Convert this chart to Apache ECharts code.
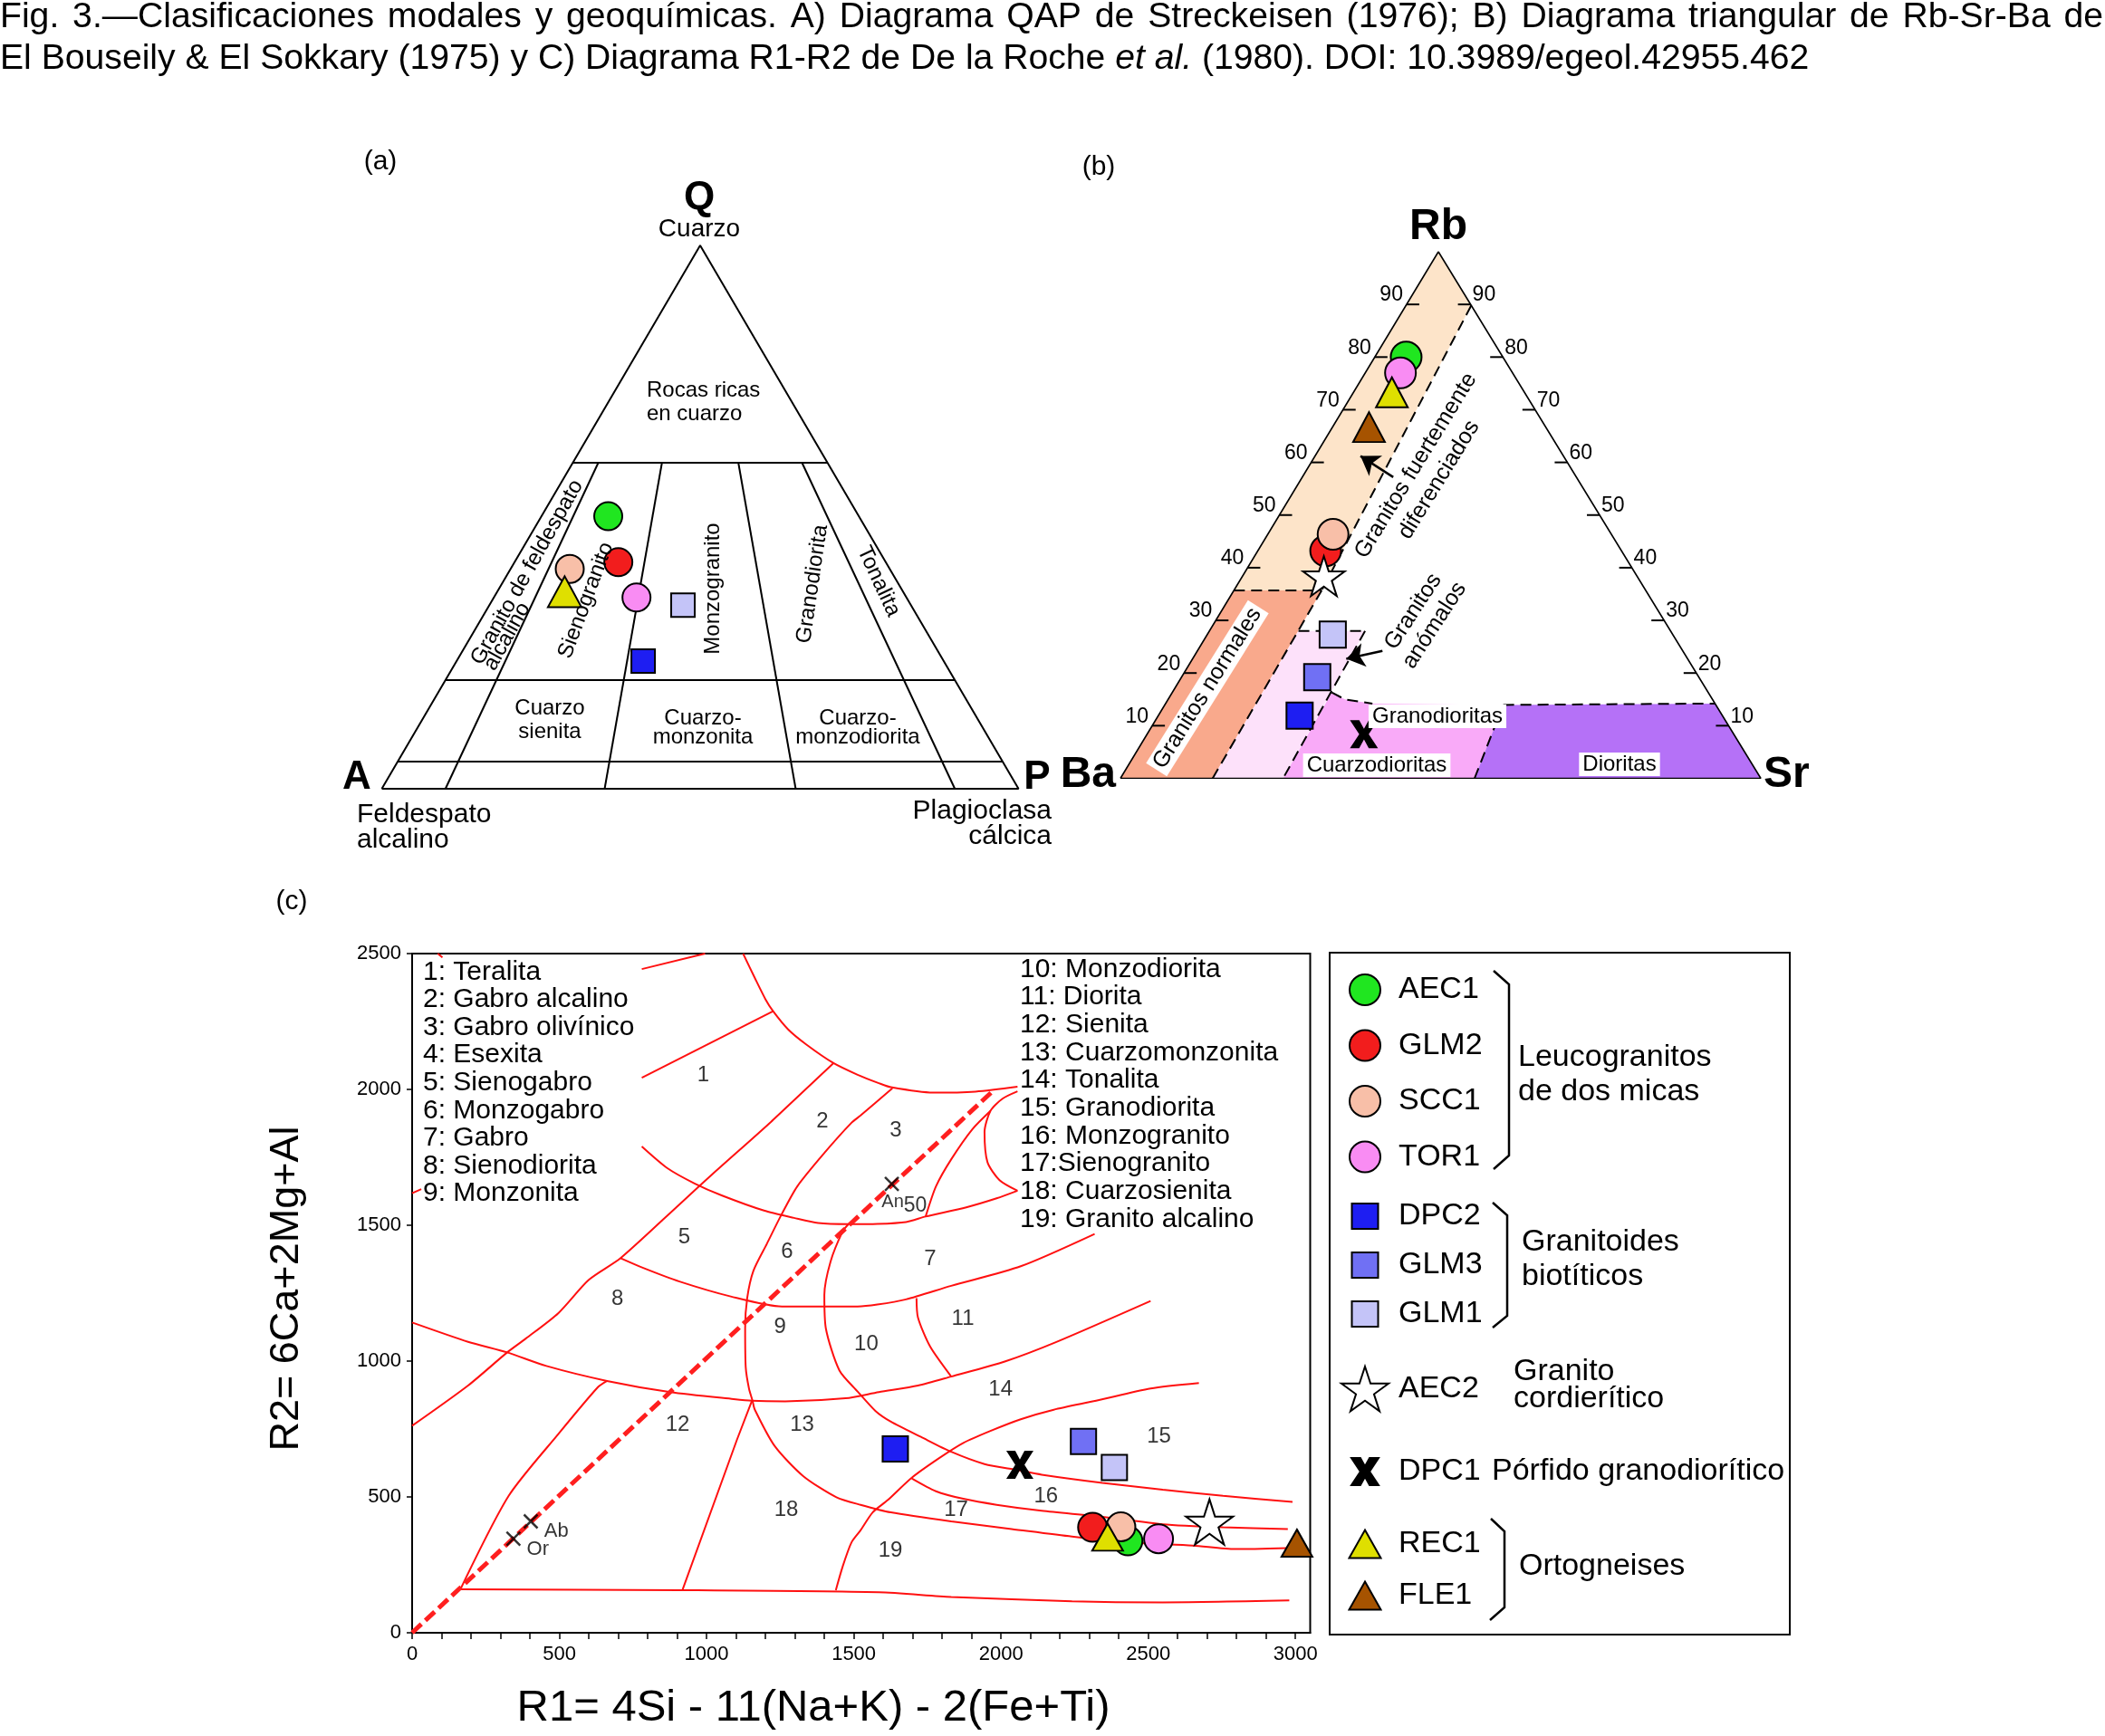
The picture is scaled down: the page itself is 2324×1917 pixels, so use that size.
<!DOCTYPE html>
<html><head><meta charset="utf-8">
<script src="https://cdn.jsdelivr.net/npm/echarts@6/dist/echarts.min.js"></script>
<style>html,body{margin:0;padding:0;background:#fff}#c{width:2324px;height:1917px}</style>
</head><body><div id="c"></div>
<script>
const FONT = '"Liberation Sans", Arial, Helvetica, sans-serif';

// ---------------- Title ----------------
const titleLine1 = 'Fig. 3.—Clasificaciones modales y geoquímicas. A) Diagrama QAP de Streckeisen (1976); B) Diagrama triangular de Rb-Sr-Ba de';
const titleLine2a = 'El Bouseily & El Sokkary (1975) y C) Diagrama R1-R2 de De la Roche ';
const titleLine2b = 'et al.';
const titleLine2c = ' (1980). DOI: 10.3989/egeol.42955.462';

// ---------------- Samples ----------------
const sampleOrder = ['AEC1','GLM2','SCC1','TOR1','DPC2','GLM3','GLM1','AEC2','DPC1','REC1','FLE1'];
const sampleKind  = ['circle','circle','circle','circle','square','square','square','star','cross','triangle','triangle'];
const sampleColor = ['#20e620','#f21d1d','#f8bfa8','#f98cf3','#1e1ef2','#7070f4','#c4c4f8','#ffffff','#000000','#dfdf00','#a65300'];

// ---------------- Panel A: QAP (percent) ----------------
const qapNames = ['AEC1','GLM2','SCC1','TOR1','REC1','GLM1','DPC2'];
const qapQ = [50.2, 41.7, 40.5, 35.2, 36.3, 33.8, 23.5];
const qapA = [39.4, 42.0, 50.3, 42.4, 53.2, 35.8, 47.2];
const qapP = [10.5, 16.3,  9.3, 22.4, 10.6, 30.4, 29.3];
const qapQLines = [60, 20, 5];          // Q iso-lines
const qapRatioLines = [10, 35, 65, 90]; // 100*P/(A+P), from Q=60 to Q=0

// ---------------- Panel B: Rb-Ba-Sr (percent) ----------------
const rbNames = ['AEC1','TOR1','REC1','FLE1','SCC1','GLM2','AEC2','GLM1','GLM3','DPC2','DPC1'];
const rbRb = [80.0, 77.0, 73.3, 66.7, 46.4, 43.2, 38.4, 27.3, 19.2, 11.9,  8.4];
const rbBa = [15.1, 17.5, 20.7, 27.6, 43.5, 46.2, 48.9, 53.1, 59.6, 66.1, 57.8];
const rbSr = [ 4.9,  5.5,  6.0,  5.7, 10.2, 10.6, 12.7, 19.6, 21.2, 22.1, 33.9];
const rbTicks = [10, 20, 30, 40, 50, 60, 70, 80, 90];
// fields [Rb, Ba, Sr]
const fieldDiferenciados = [[35.7,64.3,0],[100,0,0],[89.8,0,10.2],[35.7,50.6,13.7]];
const fieldNormales      = [[35.7,64.3,0],[0,100,0],[0,85.6,14.4],[35.7,50.6,13.7]];
const fieldAnomalos      = [[0,85.6,14.4],[28,58.1,13.9],[28,47.7,24.3],[0,74.6,25.4]];
const fieldGranodioritas = [[0,74.6,25.4],[16.3,58.8,24.9],[15,57.4,27.6],[14.2,53.5,32.3],[13.95,33.2,52.85],[0,44.7,55.3]];
const fieldDioritas      = [[13.95,33.2,52.85],[14.2,0,85.8],[0,0,100],[0,44.7,55.3]];
const rbDashed = [
  [[89.8,0,10.2],[35.7,50.6,13.7]],
  [[35.7,64.3,0],[35.7,50.6,13.7]],
  [[0,85.6,14.4],[35.7,50.6,13.7]],
  [[28,58.1,13.9],[28,47.7,24.3]],
  [[28,47.7,24.3],[0,74.6,25.4]],
  [[16.3,58.8,24.9],[15,57.4,27.6],[14.2,53.5,32.3]],
  [[13.95,33.2,52.85],[14.2,0,85.8]],
  [[0,44.7,55.3],[13.95,33.2,52.85]]
];
const rbArrows = [
  [[57.2,28.6,14.2],[61.2,31.7,7.1]],
  [[24.2,46.9,28.9],[22.7,53.3,24.0]]
];

// ---------------- Panel C: R1-R2 ----------------
const r1r2Names = ['DPC2','GLM3','GLM1','DPC1','GLM2','SCC1','AEC1','REC1','TOR1','AEC2','FLE1'];
const r1Values  = [1641, 2280, 2385, 2064, 2311, 2407, 2431, 2362, 2535, 2708, 3005];
const r2Values  = [ 677,  704,  608,  618,  388,  390,  338,  352,  346,  408,  330];
const r1Labels = [0, 500, 1000, 1500, 2000, 2500, 3000];
const r2Labels = [0, 500, 1000, 1500, 2000, 2500];
const refNames = ['Or', 'Ab', 'An50'];
const refR1 = [344, 403, 1629];
const refR2 = [346, 410, 1652];
const fieldNumbers = ['1','2','3','5','6','7','8','9','10','11','12','13','14','15','16','17','18','19'];
const fieldNumR1 = [990,1395,1644, 926,1275,1761, 699,1251,1544,1872, 903,1326,2000,2538,2154,1849,1272,1626];
const fieldNumR2 = [2049,1880,1846,1454,1401,1374,1227,1123,1060,1154, 763, 763, 893, 719, 501, 449, 452, 301];
const rocheLegendLeft = ['1: Teralita','2: Gabro alcalino','3: Gabro olivínico','4: Esexita','5: Sienogabro','6: Monzogabro','7: Gabro','8: Sienodiorita','9: Monzonita'];
const rocheLegendRight = ['10: Monzodiorita','11: Diorita','12: Sienita','13: Cuarzomonzonita','14: Tonalita','15: Granodiorita','16: Monzogranito','17:Sienogranito','18: Cuarzosienita','19: Granito alcalino'];

const lineTeralitaTop = [[780,2443],[995,2500]];
const lineTopLeftTick = [[87,2500],[103,2486]];
const lineLeftTick = [[0,1618],[31,1633]];
const arcTeralita = [[1124,2500],[1164,2410],[1200,2332],[1226,2288],[1277,2221],[1338,2166],[1431,2097],[1513,2054],[1585,2023],[1626,2008],[1769,1988],[1913,1992],[2056,2010]];
const lineTeralitaEsexita = [[780,2043],[1226,2288]];
const lineEsexita = [[0,762],[190,910],[323,1032],[385,1082],[497,1177],[600,1299],[708,1379],[908,1577],[1031,1699],[1215,1877],[1431,2097]];
const curveGabros = [[780,1790],[867,1710],[959,1654],[1051,1610],[1195,1554],[1297,1527],[1379,1508],[1482,1504],[1580,1505],[1677,1512],[1744,1532],[1882,1566],[1985,1599],[2056,1627]];
const loopOlivinico = [[2056,1993],[2005,1966],[1964,1921],[1944,1843],[1954,1732],[1995,1666],[2056,1627]];
const line3to7 = [[1964,1921],[1903,1854],[1831,1743],[1779,1643],[1744,1532]];
const curveSubalcalina = [[1631,2004],[1523,1904],[1492,1877],[1400,1766],[1308,1643],[1251,1532],[1205,1432],[1159,1332],[1138,1232],[1131,1121],[1133,977],[1144,899],[1156,854],[1164,821],[1231,688],[1328,577],[1441,499],[1523,471],[1626,443],[1831,410],[2036,382],[2241,354],[2446,332],[2651,321],[2795,308],[2974,312]];
const curveMonzonita = [[708,1379],[785,1343],[908,1293],[1082,1238],[1256,1201],[1369,1201],[1513,1201],[1580,1208],[1677,1227],[1831,1277],[2067,1349],[2318,1468]];
const line10to11 = [[1713,1232],[1718,1160],[1759,1054],[1831,943]];
const curveTonalita = [[1482,1504],[1462,1477],[1421,1366],[1400,1243],[1405,1121],[1451,966],[1513,888],[1574,816],[1626,777],[1728,721],[1831,666],[1944,621],[2056,599],[2138,582],[2344,552],[2549,527],[2754,504],[2990,482]];
const curveSienita = [[0,1142],[190,1071],[323,1032],[456,982],[662,927],[877,886],[1092,860],[1154,854],[1267,852],[1472,863],[1585,886],[1718,910],[1831,943],[2015,999],[2190,1071],[2508,1221]];
const lineSienitaAlc = [[662,927],[631,904],[497,732],[328,504],[164,160]];
const lineBase = [[164,160],[908,157],[1585,149],[1831,132],[2241,116],[2549,112],[2979,119]];
const line12to18 = [[1154,854],[1103,710],[918,157]];
const curveGranodiorita = [[2672,919],[2508,899],[2323,854],[2179,821],[2067,786],[1964,743],[1872,699],[1790,643],[1697,571],[1615,488],[1564,443],[1523,377],[1492,332],[1462,243],[1439,157]];
const curveSienogranito = [[1697,568],[1779,521],[1872,493],[1985,471],[2138,449],[2344,427],[2549,399],[2754,388],[2974,382]];
const lineOrAn = [[0,0],[1978,2000]];
const rocheCurves = [lineTeralitaTop,lineTopLeftTick,lineLeftTick,arcTeralita,lineTeralitaEsexita,lineEsexita,curveGabros,loopOlivinico,line3to7,curveSubalcalina,curveMonzonita,line10to11,curveTonalita,curveSienita,lineSienitaAlc,lineBase,line12to18,curveGranodiorita,curveSienogranito];

// ---------------- helpers ----------------
const qapXY = (q, a, p) => { const s = q + a + p; return [(p + 0.5 * q) / s, q / s]; };
const RB_APEX = 0.4965;
const rbXY = (rb, ba, sr) => { const s = rb + ba + sr; return [(sr + rb * RB_APEX) / s, rb / s]; };
const rbP = t => rbXY(t[0], t[1], t[2]);

const SYM = {
  circle: 'circle', square: 'rect', triangle: 'triangle',
  star: 'path://M50,2L61.2,36.5L97.6,36.5L68.2,57.9L79.4,92.4L50,71L20.6,92.4L31.8,57.9L2.4,36.5L38.8,36.5Z',
  cross: 'path://M0,0H3.3L5,3.1L6.7,0H10L6.7,5L10,10H6.7L5,6.9L3.3,10H0L3.3,5Z'
};
const panelSizes = [
  {circle: 31, square: 26, triangle: [37, 34]},
  {circle: 34, square: 29, triangle: [35, 33], star: [46, 44], cross: [31, 31]},
  {circle: 32, square: 28, triangle: [34, 30], star: [52, 50], cross: [30, 31]}
];

const series = [];
function lineS(ax, data, style, extra) {
  series.push(Object.assign({type: 'line', xAxisIndex: ax, yAxisIndex: ax, data: data, symbol: 'none',
    silent: true, animation: false, z: 2, lineStyle: style}, extra || {}));
}

// Panel A lines
const black2 = {color: '#000', width: 2};
lineS(0, [qapXY(0,100,0), qapXY(0,0,100), qapXY(100,0,0), qapXY(0,100,0)], black2);
qapQLines.forEach(q => lineS(0, [qapXY(q, 100 - q, 0), qapXY(q, 0, 100 - q)], black2));
qapRatioLines.forEach(r => lineS(0, [qapXY(60, 40 * (100 - r) / 100, 40 * r / 100), qapXY(0, 100 - r, r)], black2));

// Panel B fields
function polyS(poly, fill) {
  series.push({type: 'custom', xAxisIndex: 1, yAxisIndex: 1, silent: true, z: 1, animation: false, data: [[0, 0]],
    renderItem: (params, api) => ({type: 'polygon', shape: {points: poly.map(p => api.coord(rbP(p)))}, style: {fill: fill}})});
}
polyS(fieldDiferenciados, '#fde4c9');
polyS(fieldNormales, '#f9a98c');
polyS(fieldAnomalos, '#fde1fa');
polyS(fieldGranodioritas, '#f9aaf8');
polyS(fieldDioritas, '#b571f7');
rbDashed.forEach(seg => lineS(1, seg.map(rbP), {color: '#000', width: 2, type: [12, 7]}));
lineS(1, [rbXY(0,100,0), rbXY(0,0,100), rbXY(100,0,0), rbXY(0,100,0)], {color: '#000', width: 1.6});
series.push({type: 'custom', xAxisIndex: 1, yAxisIndex: 1, silent: true, z: 3, animation: false,
  data: rbTicks.flatMap(v => [[v, 0], [v, 1]]),
  renderItem: (params, api) => {
    const v = api.value(0), side = api.value(1);
    const e = side === 0 ? api.coord(rbXY(v, 100 - v, 0)) : api.coord(rbXY(v, 0, 100 - v));
    const dir = side === 0 ? 1 : -1;
    const al = side === 0 ? 'right' : 'left';
    return {type: 'group', children: [
      {type: 'line', shape: {x1: e[0], y1: e[1], x2: e[0] + dir * 14, y2: e[1]}, style: {stroke: '#000', lineWidth: 2}},
      {type: 'text', x: side === 0 ? e[0] - 4 : e[0] + 2, y: e[1] - 10,
       style: {text: String(v), fill: '#000', font: '23px ' + FONT, align: al, verticalAlign: 'middle', textAlign: al, textVerticalAlign: 'middle'}}
    ]};
  }});
series.push({type: 'lines', coordinateSystem: 'cartesian2d', xAxisIndex: 1, yAxisIndex: 1, silent: true, z: 4, animation: false,
  symbol: ['none', 'arrow'], symbolSize: 20,
  lineStyle: {color: '#000', width: 2.5, opacity: 1},
  data: rbArrows.map(a => ({coords: a.map(rbP)}))});

// Panel C curves
rocheCurves.forEach(c => lineS(2, c, {color: '#ff1010', width: 2}, {smooth: c.length > 3 ? 0.25 : false}));
lineS(2, lineOrAn, {color: '#ff1f1f', width: 5, type: [14, 6]});
series.push({type: 'scatter', xAxisIndex: 2, yAxisIndex: 2, silent: true, z: 3, animation: false, symbolSize: 1,
  itemStyle: {color: 'rgba(0,0,0,0)'},
  label: {show: true, position: [0, 0], align: 'center', verticalAlign: 'middle', formatter: '{b}', fontSize: 24,
    color: '#000', textBorderWidth: 0, fontFamily: FONT},
  data: fieldNumbers.map((n, i) => ({name: n, value: [fieldNumR1[i], fieldNumR2[i]]}))});
const refLabel = [
  {offset: [16, 13], formatter: 'Or'},
  {offset: [16, 12], formatter: 'Ab'},
  {offset: [-10, 21], formatter: '{a|An}{s|50}'}
];
series.push({type: 'scatter', xAxisIndex: 2, yAxisIndex: 2, silent: true, z: 4, animation: false,
  symbol: 'path://M0,0L10,10M10,0L0,10', symbolSize: 15,
  itemStyle: {color: 'rgba(0,0,0,0)', borderColor: '#000', borderWidth: 2.5},
  data: refNames.map((n, i) => ({name: n, value: [refR1[i], refR2[i]],
    label: Object.assign({show: true, position: [7.5, 7.5], align: 'left', verticalAlign: 'middle', fontSize: 22,
      color: '#000', textBorderWidth: 0, fontFamily: FONT,
      rich: {a: {fontSize: 20, fontFamily: FONT, color: '#000'}, s: {fontSize: 23, fontFamily: FONT, color: '#000', padding: [9, 0, 0, 0]}}}, refLabel[i])}))});

// Points
function pushPoint(panel, name, k, xy) {
  const kind = sampleKind[k];
  series.push({type: 'scatter', name: name, xAxisIndex: panel, yAxisIndex: panel, data: [xy],
    symbol: SYM[kind], symbolSize: panelSizes[panel][kind], silent: true, animation: false, clip: false, z: 5,
    itemStyle: {color: sampleColor[k], borderColor: '#000', borderWidth: kind === 'cross' ? 0 : 2, opacity: 1}});
}
sampleOrder.forEach((name, k) => {
  const iA = qapNames.indexOf(name);
  if (iA >= 0) pushPoint(0, name, k, qapXY(qapQ[iA], qapA[iA], qapP[iA]));
  const iB = rbNames.indexOf(name);
  if (iB >= 0) pushPoint(1, name, k, rbXY(rbRb[iB], rbBa[iB], rbSr[iB]));
  const iC = r1r2Names.indexOf(name);
  if (iC >= 0) pushPoint(2, name, k, [r1Values[iC], r2Values[iC]]);
});

// ---------------- graphic texts ----------------
function T(text, x, y, size, o) {
  o = o || {};
  const al = o.align || 'center', va = o.va || 'middle';
  return {type: 'text', x: x, y: y, rotation: (o.rot || 0) * Math.PI / 180, z: 50, silent: true,
    style: Object.assign({text: text, fill: '#000', font: (o.bold ? 'bold ' : '') + size + 'px ' + FONT,
      align: al, verticalAlign: va, textAlign: al, textVerticalAlign: va}, o.style || {})};
}
const G = [];
// Title (justified first line, second line sized to its width)
const mctx = document.createElement('canvas').getContext('2d');
function tw(s, fs, it) { mctx.font = (it ? 'italic ' : '') + fs + 'px "Liberation Sans"'; return mctx.measureText(s).width; }
const w2 = tw(titleLine2a, 33) + tw(titleLine2b, 33, true) + tw(titleLine2c, 33);
const tfs = 33 * 1998 / w2;
const words = titleLine1.split(' ');
const ww = words.map(w => tw(w, tfs));
const gap = (2322 - ww.reduce((s, v) => s + v, 0)) / (words.length - 1);
let cx = 0;
words.forEach((w, i) => { G.push(T(w, cx, 19, tfs.toFixed(2), {align: 'left'})); cx += ww[i] + gap; });
G.push({type: 'text', x: 0, y: 65, z: 50, silent: true, style: {
  text: titleLine2a + '{i|' + titleLine2b + '}' + titleLine2c, fill: '#000', fontSize: tfs, fontFamily: 'Liberation Sans',
  align: 'left', verticalAlign: 'middle', textAlign: 'left', textVerticalAlign: 'middle',
  rich: {i: {fontStyle: 'italic', fontSize: tfs, fontFamily: 'Liberation Sans', fill: '#000'}}}});

// Panel A labels
G.push(T('(a)', 420, 179, 30));
G.push(T('Q', 772, 219, 44, {bold: true}));
G.push(T('Cuarzo', 772, 253, 28));
G.push(T('Rocas ricas', 714, 431, 24, {align: 'left'}));
G.push(T('en cuarzo', 714, 457, 24, {align: 'left'}));
G.push(T('Granito de feldespato', 582, 632, 24, {rot: 60.8}));
G.push(T('alcalino', 560, 703, 24, {rot: 60.8}));
G.push(T('Sienogranito', 647, 663, 24, {rot: 69.5}));
G.push(T('Monzogranito', 787, 650, 24, {rot: 90}));
G.push(T('Granodiorita', 897, 645, 24, {rot: 81.7}));
G.push(T('Tonalita', 970, 642, 24, {rot: -65}));
G.push(T('Cuarzo', 607, 782, 24)); G.push(T('sienita', 607, 808, 24));
G.push(T('Cuarzo-', 776, 793, 24)); G.push(T('monzonita', 776, 814, 24));
G.push(T('Cuarzo-', 947, 793, 24)); G.push(T('monzodiorita', 947, 814, 24));
G.push(T('A', 394, 859, 44, {bold: true}));
G.push(T('P', 1145, 859, 44, {bold: true}));
G.push(T('Feldespato', 394, 900, 30, {align: 'left'}));
G.push(T('alcalino', 394, 928, 30, {align: 'left'}));
G.push(T('Plagioclasa', 1161, 896, 30, {align: 'right'}));
G.push(T('cálcica', 1161, 924, 30, {align: 'right'}));

// Panel B labels
G.push(T('(b)', 1213, 185, 30));
G.push(T('Rb', 1588, 251, 48, {bold: true}));
G.push(T('Ba', 1232, 856, 48, {bold: true, align: 'right'}));
G.push(T('Sr', 1947, 856, 48, {bold: true, align: 'left'}));
G.push(T('Granitos fuertemente\ndiferenciados', 1576, 522, 25, {rot: 58.5, style: {lineHeight: 30}}));
G.push(T('Granitos\nanómalos', 1572, 683, 25, {rot: 57, style: {lineHeight: 28}}));
const whiteBox = {backgroundColor: '#fff', padding: [1, 4]};
G.push(T('Granitos normales', 1333, 760, 25, {rot: 58, style: whiteBox}));
G.push(T('Granodioritas', 1587, 791, 24, {style: whiteBox}));
G.push(T('Cuarzodioritas', 1520, 845, 24, {style: whiteBox}));
G.push(T('Dioritas', 1788, 844, 24, {style: whiteBox}));

// Panel C texts
G.push(T('(c)', 322, 996, 30));
G.push(T('R2= 6Ca+2Mg+Al', 317, 1423, 45, {rot: 90}));
G.push(T('R1= 4Si - 11(Na+K) - 2(Fe+Ti)', 898, 1886, 49));
G.push(T(rocheLegendLeft.join('\n'), 467, 1058, 30, {align: 'left', va: 'top', style: {lineHeight: 30.6}}));
G.push(T(rocheLegendRight.join('\n'), 1126, 1055, 30, {align: 'left', va: 'top', style: {lineHeight: 30.67}}));

// Legend box decorations
G.push({type: 'rect', z: 40, silent: true, shape: {x: 1468, y: 1052, width: 508, height: 753}, style: {fill: 'none', stroke: '#000', lineWidth: 2}});
const braceStyle = {fill: 'none', stroke: '#000', lineWidth: 2.5};
G.push({type: 'polyline', z: 40, silent: true, shape: {points: [[1649,1072],[1666,1087],[1666,1276],[1649,1291]]}, style: braceStyle});
G.push({type: 'polyline', z: 40, silent: true, shape: {points: [[1648,1328],[1664,1342],[1664,1453],[1648,1466]]}, style: braceStyle});
G.push({type: 'polyline', z: 40, silent: true, shape: {points: [[1646,1677],[1661,1691],[1661,1775],[1645,1789]]}, style: braceStyle});
G.push(T('Leucogranitos', 1676, 1168, 34, {align: 'left'}));
G.push(T('de dos micas', 1676, 1206, 34, {align: 'left'}));
G.push(T('Granitoides', 1680, 1372, 34, {align: 'left'}));
G.push(T('biotíticos', 1680, 1410, 34, {align: 'left'}));
G.push(T('Granito', 1671, 1515, 34, {align: 'left'}));
G.push(T('cordierítico', 1671, 1545, 34, {align: 'left'}));
G.push(T('Pórfido granodiorítico', 1647, 1625, 34, {align: 'left'}));
G.push(T('Ortogneises', 1677, 1730, 34, {align: 'left'}));

// ---------------- legends ----------------
function L(names, left, top, w, h, gap, padLeft) {
  return {data: names, orient: 'vertical', left: left, top: top, itemWidth: w, itemHeight: h, itemGap: gap,
    padding: 0, selectedMode: false, z: 45,
    itemStyle: {borderColor: '#000', borderWidth: 2},
    textStyle: {fontSize: 34, color: '#000', fontFamily: FONT, lineHeight: 34, padding: [0, 0, 0, padLeft]}};
}
const legends = [
  L(['AEC1','GLM2','SCC1','TOR1'], 1489, 1075, 34, 34, 25.5, 15),
  L(['DPC2','GLM3','GLM1'], 1491.5, 1326, 29, 28, 20, 17.5),
  L(['AEC2'], 1480, 1508, 52, 50, 10, 6),
  L(['DPC1'], 1491, 1608, 30, 31, 10, 17),
  L(['REC1','FLE1'], 1488.5, 1688, 35, 31, 23, 14.5)
];

const plainNum = v => String(v);
const hiddenAx = i => ({gridIndex: i, type: 'value', min: 0, max: 1, show: false});
const option = {
  backgroundColor: '#fff',
  animation: false,
  grid: [
    {left: 421.5, top: 271, width: 703, height: 600, show: false, containLabel: false, outerBoundsMode: 'none'},
    {left: 1237, top: 278, width: 707, height: 581.5, show: false, containLabel: false, outerBoundsMode: 'none'},
    {left: 455, top: 1053, width: 991.5, height: 750, show: true, borderColor: '#000', borderWidth: 2, backgroundColor: 'transparent', containLabel: false, outerBoundsMode: 'none'}
  ],
  xAxis: [hiddenAx(0), hiddenAx(1), {
    gridIndex: 2, type: 'value', min: 0, max: 3050, interval: 500,
    axisLine: {lineStyle: {color: '#000', width: 2}},
    axisTick: {length: 7, customValues: Array.from({length: 31}, (_, i) => i * 100), lineStyle: {color: '#000', width: 1.5}},
    splitLine: {show: false},
    axisLabel: {customValues: r1Labels, formatter: plainNum, fontSize: 22, color: '#000', fontFamily: FONT, margin: 13}
  }],
  yAxis: [hiddenAx(0), hiddenAx(1), {
    gridIndex: 2, type: 'value', min: 0, max: 2500, interval: 500,
    axisLine: {lineStyle: {color: '#000', width: 2}},
    axisTick: {length: 6, customValues: r2Labels, lineStyle: {color: '#000', width: 1.5}},
    splitLine: {show: false},
    axisLabel: {customValues: r2Labels, formatter: plainNum, fontSize: 22, color: '#000', fontFamily: FONT, margin: 12}
  }],
  legend: legends,
  graphic: {elements: G},
  series: series
};
const chart = echarts.init(document.getElementById('c'), null, {renderer: 'canvas', width: 2324, height: 1917});
chart.setOption(option);
</script></body></html>
